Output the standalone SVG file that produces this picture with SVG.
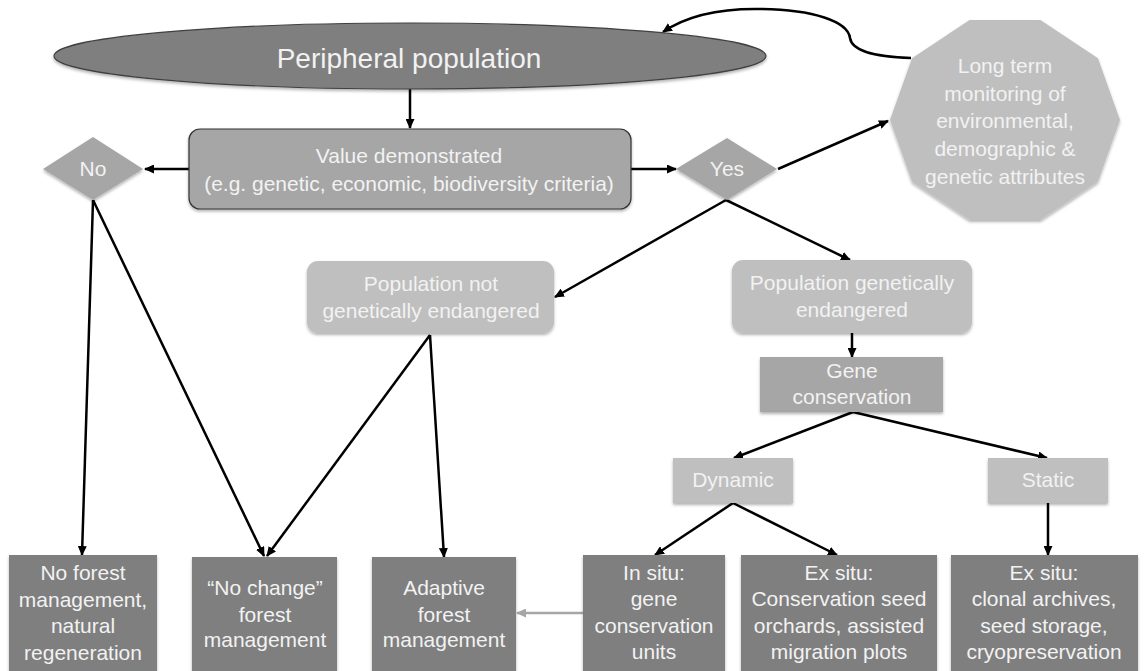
<svg xmlns="http://www.w3.org/2000/svg" width="1145" height="671" viewBox="0 0 1145 671">
<defs>
<marker id="ah" markerUnits="userSpaceOnUse" markerWidth="10" markerHeight="9" refX="9" refY="4.5" orient="auto"><path d="M0,0 L10,4.5 L0,9 z" fill="#000"/></marker>
<marker id="ahg" markerUnits="userSpaceOnUse" markerWidth="10" markerHeight="9" refX="9" refY="4.5" orient="auto"><path d="M0,0 L10,4.5 L0,9 z" fill="#a6a6a6"/></marker>
<filter id="sh" x="-10%" y="-10%" width="120%" height="130%"><feDropShadow dx="0" dy="2" stdDeviation="1.5" flood-color="#000" flood-opacity="0.3"/></filter>
</defs>
<style>
text{font-family:"Liberation Sans",Arial,sans-serif;fill:#f2f2f2;text-anchor:middle;font-size:21px}
.c{fill:none;stroke:#000;stroke-width:2.5;marker-end:url(#ah)}
.dark{fill:#7f7f7f}
.mid{fill:#a6a6a6}
.light{fill:#bfbfbf}
</style>
<rect width="1145" height="671" fill="#fff"/>
<g id="connectors">
<line class="c" x1="410" y1="89" x2="410" y2="128"/>
<line class="c" x1="189" y1="169" x2="145" y2="169"/>
<line class="c" x1="631" y1="169" x2="676" y2="169"/>
<line class="c" x1="778" y1="169" x2="888" y2="121"/>
<path class="c" d="M911,58 C878,57 852,52 850,38 C848,22 815,9 755,9 C715,9 685,17 663,32"/>
<line class="c" x1="726" y1="200" x2="555" y2="297"/>
<line class="c" x1="726" y1="200" x2="850" y2="260"/>
<line class="c" x1="852" y1="333" x2="852" y2="357"/>
<line class="c" x1="853" y1="412" x2="734" y2="458"/>
<line class="c" x1="853" y1="412" x2="1047" y2="458"/>
<line class="c" x1="733" y1="503" x2="655" y2="555"/>
<line class="c" x1="733" y1="503" x2="837" y2="555"/>
<line class="c" x1="1048" y1="503" x2="1048" y2="555"/>
<line class="c" x1="93" y1="200" x2="82" y2="555"/>
<line class="c" x1="93" y1="200" x2="264" y2="556"/>
<line class="c" x1="430" y1="335" x2="267" y2="556"/>
<line class="c" x1="430" y1="335" x2="444" y2="557"/>
<line x1="583" y1="613" x2="517" y2="613" fill="none" stroke="#a6a6a6" stroke-width="2.5" marker-end="url(#ahg)"/>
</g>
<g id="peripheral">
<ellipse cx="410" cy="56" rx="356" ry="33" class="dark" stroke="#404040" stroke-width="1.2" filter="url(#sh)"/>
<text x="409" y="68" style="font-size:28px">Peripheral population</text>
</g>
<g id="value">
<rect x="189" y="129" width="442" height="80" rx="11" class="mid" stroke="#333" stroke-width="1.2" filter="url(#sh)"/>
<text x="409" y="163">Value demonstrated</text>
<text x="409" y="191">(e.g. genetic, economic, biodiversity criteria)</text>
</g>
<g id="no">
<polygon points="93,137 143,169 93,200 43,169" class="mid" filter="url(#sh)"/>
<text x="93" y="176">No</text>
</g>
<g id="yes">
<polygon points="727,138 777,169 727,200 676,169" class="mid" filter="url(#sh)"/>
<text x="727" y="176">Yes</text>
</g>
<g id="monitoring">
<polygon points="1120,120 1098,58.3 1040.5,20.1 969.5,20.1 912,58.3 890,120 912,181.7 969.5,219.9 1040.5,219.9 1098,181.7" class="light" filter="url(#sh)"/>
<text x="1005" y="73">Long term</text>
<text x="1005" y="101">monitoring of</text>
<text x="1005" y="128">environmental,</text>
<text x="1005" y="156">demographic &amp;</text>
<text x="1005" y="184">genetic attributes</text>
</g>
<g id="not-endangered">
<rect x="307" y="261" width="247" height="72" rx="11" class="light" filter="url(#sh)"/>
<text x="431" y="291">Population not</text>
<text x="431" y="318">genetically endangered</text>
</g>
<g id="endangered">
<rect x="732" y="260" width="240" height="73" rx="11" class="light" filter="url(#sh)"/>
<text x="852" y="290">Population genetically</text>
<text x="852" y="317">endangered</text>
</g>
<g id="gene-conservation">
<rect x="760" y="357" width="183" height="55" class="mid" filter="url(#sh)"/>
<text x="852" y="378">Gene</text>
<text x="852" y="404">conservation</text>
</g>
<g id="dynamic">
<rect x="673" y="458" width="120" height="45" class="light" filter="url(#sh)"/>
<text x="733" y="487">Dynamic</text>
</g>
<g id="static">
<rect x="988" y="458" width="120" height="45" class="light" filter="url(#sh)"/>
<text x="1048" y="487">Static</text>
</g>
<g id="no-forest">
<rect x="9" y="555" width="148" height="118" class="dark" filter="url(#sh)"/>
<text x="83" y="580">No forest</text>
<text x="83" y="607">management,</text>
<text x="83" y="633">natural</text>
<text x="83" y="660">regeneration</text>
</g>
<g id="no-change">
<rect x="192" y="557" width="145" height="116" class="dark" filter="url(#sh)"/>
<text x="265" y="595">“No change”</text>
<text x="265" y="622">forest</text>
<text x="265" y="647">management</text>
</g>
<g id="adaptive">
<rect x="372" y="557" width="144" height="116" class="dark" filter="url(#sh)"/>
<text x="444" y="595">Adaptive</text>
<text x="444" y="622">forest</text>
<text x="444" y="647">management</text>
</g>
<g id="in-situ">
<rect x="583" y="555" width="142" height="118" class="dark" filter="url(#sh)"/>
<text x="654" y="580">In situ:</text>
<text x="654" y="606">gene</text>
<text x="654" y="633">conservation</text>
<text x="654" y="659">units</text>
</g>
<g id="ex-situ-1">
<rect x="741" y="555" width="196" height="118" class="dark" filter="url(#sh)"/>
<text x="839" y="580">Ex situ:</text>
<text x="839" y="606">Conservation seed</text>
<text x="839" y="633">orchards, assisted</text>
<text x="839" y="659">migration plots</text>
</g>
<g id="ex-situ-2">
<rect x="951" y="555" width="187" height="118" class="dark" filter="url(#sh)"/>
<text x="1044" y="580">Ex situ:</text>
<text x="1044" y="606">clonal archives,</text>
<text x="1044" y="633">seed storage,</text>
<text x="1044" y="659">cryopreservation</text>
</g>
</svg>
